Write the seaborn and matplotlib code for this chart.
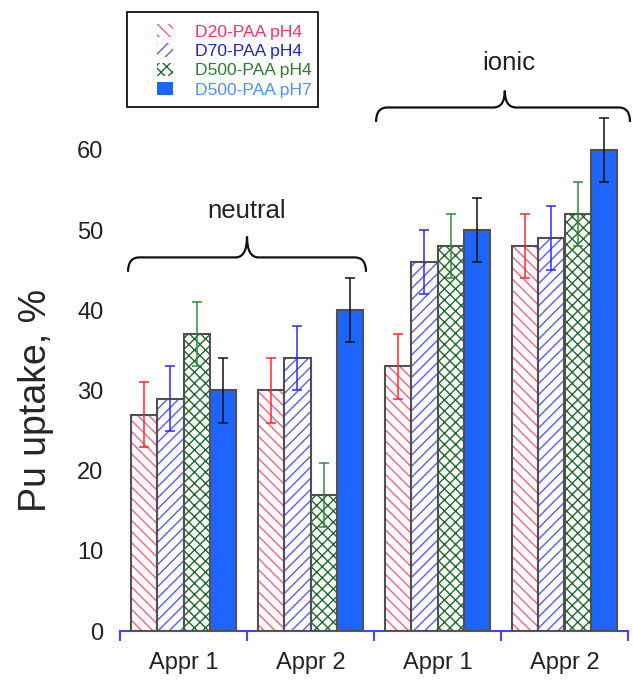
import matplotlib
matplotlib.use("Agg")
import matplotlib.pyplot as plt
from matplotlib.path import Path
from matplotlib.patches import PathPatch, Rectangle, Patch
import seaborn as sns
import pandas as pd
import numpy as np

# ---- data ----
groups = ["Appr 1 (neutral)", "Appr 2 (neutral)", "Appr 1 (ionic)", "Appr 2 (ionic)"]
tick_labels = ["Appr 1", "Appr 2", "Appr 1", "Appr 2"]
series = ["D20-PAA pH4", "D70-PAA pH4", "D500-PAA pH4", "D500-PAA pH7"]
d20 = [27, 30, 33, 48]
d70 = [29, 34, 46, 49]
d500_4 = [37, 17, 48, 52]
d500_7 = [30, 40, 50, 60]
err_d20 = [4, 4, 4, 4]
err_d70 = [4, 4, 4, 4]
err_d500_4 = [4, 4, 4, 4]
err_d500_7 = [4, 4, 4, 4]

values = [d20, d70, d500_4, d500_7]
errors = [err_d20, err_d70, err_d500_4, err_d500_7]

rows = []
for s, vals in zip(series, values):
    for g, v in zip(groups, vals):
        rows.append({"group": g, "series": s, "value": v})
df = pd.DataFrame(rows)

# ---- styles ----
face = ["white", "white", "white", "#1e64ff"]
hatch_col = ["#ff5c86", "#5a5aff", "#1e6b2a", "#1e64ff"]
hatches = ["\\\\\\", "///", "xxx", None]
err_col = ["#ff2a2a", "#2a2aff", "#2e8b3e", "#111111"]
text_col = ["#ff2d6e", "#2020d0", "#2e7d32", "#4a90ff"]
axis_blue = "#4444ff"

sns.set_style("white")
plt.rcParams["font.family"] = ["Liberation Sans", "DejaVu Sans"]
plt.rcParams["hatch.linewidth"] = 1.0

fig = plt.figure(figsize=(6.33, 6.82), dpi=100)
ax = fig.add_axes([120 / 633, 51 / 682, 508 / 633, 611 / 682])

sns.barplot(data=df, x="group", y="value", hue="series", order=groups,
            hue_order=series, palette=dict(zip(series, face)), saturation=1,
            width=0.82, legend=False, ax=ax, errorbar=None)

bar_conts = list(ax.containers)
for i, cont in enumerate(bar_conts):
    for j, p in enumerate(cont.patches):
        x, w, h = p.get_x(), p.get_width(), p.get_height()
        if hatches[i]:
            p.set_hatch(hatches[i])
            p.set_edgecolor(hatch_col[i])
            p.set_linewidth(0)
        else:
            p.set_edgecolor("none")
            p.set_linewidth(0)
        ax.add_patch(Rectangle((x, 0), w, h, fill=False, edgecolor="#505050",
                               linewidth=1.5, zorder=3))
        ax.errorbar(x + w / 2, h, yerr=errors[i][j], color=err_col[i],
                    elinewidth=1.1, capsize=3.5, capthick=1.1, zorder=4)

ax.set_xlim(-0.5, 3.5)
ax.set_ylim(0, 611 / 8.017)
ax.set_yticks([0, 10, 20, 30, 40, 50, 60])
ax.set_yticklabels(["0", "10", "20", "30", "40", "50", "60"], fontsize=17)
ax.tick_params(axis="y", length=0, pad=12, labelcolor="#222222")
ax.set_xticks(range(4))
ax.set_xticklabels(tick_labels, fontsize=17, color="#222222")
ax.set_xticks([-0.5, 0.5, 1.5, 2.5, 3.5], minor=True)
ax.tick_params(axis="x", which="major", length=0, pad=15, bottom=False)
ax.tick_params(axis="x", which="minor", length=7, width=1.5, color=axis_blue,
               direction="out", bottom=True)
ax.set_xlabel("")
ax.set_ylabel("Pu uptake, %", fontsize=27)
ax.yaxis.set_label_coords(-0.13, 0.378)
for s in ["left", "right", "top"]:
    ax.spines[s].set_visible(False)
ax.spines["bottom"].set_color(axis_blue)
ax.spines["bottom"].set_linewidth(1.5)


def brace(x0, x1, xm, y_end, y_h, y_tip, rx):
    verts = [(x0, y_end), (x0, y_h), (x0 + rx, y_h),
             (xm - rx, y_h), (xm, y_h), (xm, y_tip),
             (xm, y_h), (xm + rx, y_h),
             (x1 - rx, y_h), (x1, y_h), (x1, y_end)]
    codes = [Path.MOVETO, Path.CURVE3, Path.CURVE3,
             Path.LINETO, Path.CURVE3, Path.CURVE3,
             Path.CURVE3, Path.CURVE3,
             Path.LINETO, Path.CURVE3, Path.CURVE3]
    pp = PathPatch(Path(verts, codes), fill=False, edgecolor="#111111",
                   linewidth=1.6, clip_on=False, zorder=5)
    ax.add_patch(pp)


brace(-0.437, 1.437, 0.5, 44.8, 46.6, 49.2, 0.09)
ax.text(0.5, 52.4, "neutral", ha="center", va="center", fontsize=18.5,
        color="#222222")
brace(1.516, 3.516, 2.53, 63.5, 65.3, 67.4, 0.09)
ax.text(2.56, 70.8, "ionic", ha="center", va="center", fontsize=18.5,
        color="#222222", clip_on=False)

handles = []
for i in range(4):
    if hatches[i]:
        handles.append(Patch(facecolor="white", edgecolor=hatch_col[i],
                             hatch=hatches[i], linewidth=0))
    else:
        handles.append(Patch(facecolor=face[i], edgecolor="none"))
leg = fig.legend(handles, series, loc="upper left",
                 bbox_to_anchor=(157 / 633, 1 - 24 / 682), fontsize=12.6,
                 frameon=False, handlelength=0.9, handleheight=0.8,
                 handletextpad=1.25, borderpad=0, labelspacing=0.2,
                 borderaxespad=0)
for t, c in zip(leg.get_texts(), text_col):
    t.set_color(c)
fig.add_artist(Rectangle((127 / 633, 1 - 107 / 682), 191 / 633, 95 / 682,
                         transform=fig.transFigure, fill=False,
                         edgecolor="#111111", linewidth=1.3))

fig.savefig("out.png", dpi=100)
